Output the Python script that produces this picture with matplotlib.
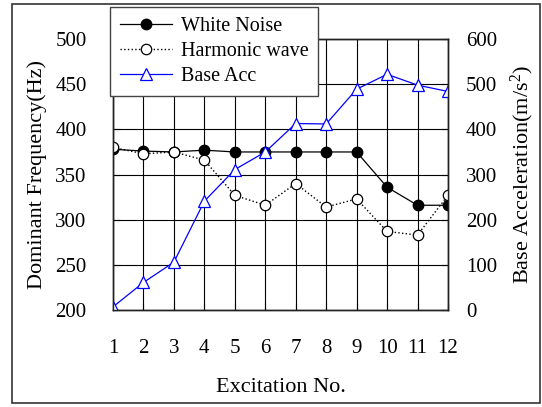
import matplotlib
matplotlib.use("Agg")
import matplotlib.pyplot as plt
from matplotlib.patches import Rectangle

plt.rcParams['font.family'] = ['Liberation Serif', 'DejaVu Serif']
plt.rcParams['mathtext.fontset'] = 'custom'
plt.rcParams['mathtext.rm'] = 'Liberation Serif'
plt.rcParams['mathtext.it'] = 'Liberation Serif:italic'

excitation = [1, 2, 3, 4, 5, 6, 7, 8, 9, 10, 11, 12]
white_noise = [378, 376, 375, 377, 375, 375, 375, 375, 375, 336, 316, 316]
harmonic_wave = [380, 373, 375, 366, 327, 316, 340, 314, 323, 287, 283, 327]
base_acc = [7, 61, 106, 241, 311, 350, 413, 412, 489, 522, 498, 484]

left_ticks = [200, 250, 300, 350, 400, 450, 500]
right_ticks = [0, 100, 200, 300, 400, 500, 600]

fig = plt.figure(figsize=(5.42, 4.07), dpi=100)
ax = fig.add_axes([0.2085, 0.2383, 0.618, 0.6657])
ax2 = ax.twinx()

tick_fs = 15
label_fs = 16
leg_fs = 14.5

h1, = ax.plot(excitation, white_noise, '-', color='black', lw=0.9,
              marker='o', ms=7.5, mfc='black', mec='black', label='White Noise', zorder=4)
h2, = ax.plot(excitation, harmonic_wave, ':', color='black', lw=1.0,
              marker='o', ms=7.5, mfc='white', mec='black', mew=0.9,
              label='Harmonic wave', zorder=5)
h3, = ax2.plot(excitation, base_acc, '-', color='blue', lw=0.9,
               marker='^', ms=8, mfc='white', mec='blue', mew=0.9, label='Base Acc')

ax.set_xlim(1, 12)
ax.set_ylim(200, 500)
ax2.set_ylim(0, 600)
ax.set_xticks(excitation)
ax.set_yticks(left_ticks)
ax2.set_yticks(right_ticks)

ax.grid(True, color='black', lw=0.8)
ax.tick_params(axis='x', direction='in', length=5, pad=21, labelsize=tick_fs)
ax.tick_params(axis='y', direction='in', length=5, pad=19, labelsize=tick_fs)
ax2.tick_params(axis='y', direction='in', length=5, pad=13, labelsize=tick_fs)

for a in (ax, ax2):
    for s in a.spines.values():
        s.set_color('#222222')
        s.set_linewidth(1.0)

ax.set_xlabel('Excitation No.', fontsize=label_fs, labelpad=14)
ax.set_ylabel('Dominant Frequency(Hz)', fontsize=label_fs, labelpad=6)
ax2.set_ylabel('Base Acceleration(m/s$^2$)', fontsize=label_fs, labelpad=8)

leg = fig.legend(handles=[h1, h2, h3], loc='upper left',
                 bbox_to_anchor=(0.203, 0.982), fontsize=leg_fs,
                 frameon=True, fancybox=False, framealpha=1,
                 edgecolor='#444444', handlelength=2.6,
                 borderpad=0.5, labelspacing=0.28, handletextpad=0.4,
                 borderaxespad=0)
leg.get_frame().set_linewidth(1.0)
leg.set_zorder(10)

fig.patches.append(Rectangle((0.022, 0.0098), 0.974, 0.980,
                             transform=fig.transFigure, fill=False,
                             edgecolor='#333333', lw=1.2))

fig.savefig('out.png', dpi=100)
